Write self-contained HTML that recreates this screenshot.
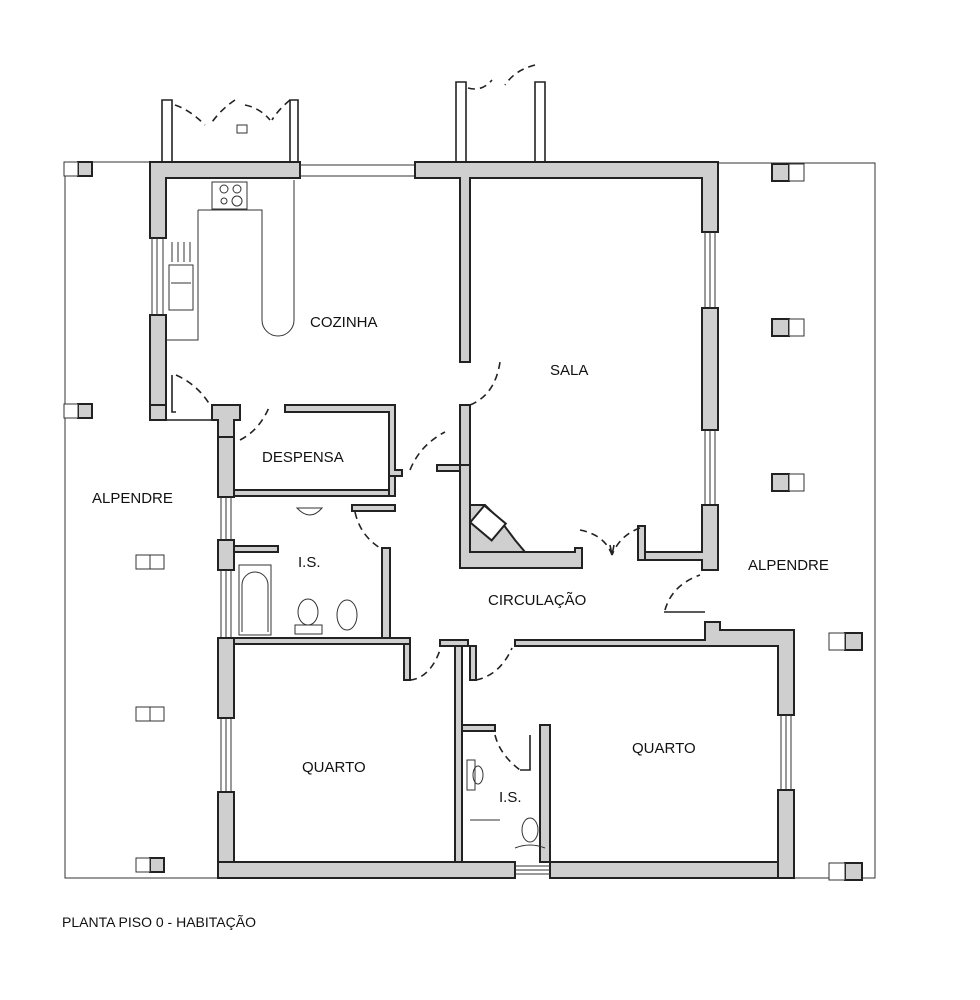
<!DOCTYPE html>
<html><head><meta charset="utf-8"><style>
html,body{margin:0;padding:0;background:#fff;}
svg{display:block}
text{font-family:"Liberation Sans",sans-serif;fill:#111;}
</style></head><body>
<svg width="980" height="1000" viewBox="0 0 980 1000" xmlns="http://www.w3.org/2000/svg">
<defs>
<style>
.w{fill:#cfcfcf;stroke:#222;stroke-width:2}
.t{fill:none;stroke:#222;stroke-width:1.6}
.th{fill:none;stroke:#333;stroke-width:1}
.d{fill:none;stroke:#222;stroke-width:1.6;stroke-dasharray:7 5}
.c{fill:#cfcfcf;stroke:#222;stroke-width:2}
.cw{fill:#fff;stroke:#333;stroke-width:1}
</style>
</defs>
<path class="th" d="M150 162 H65 V878 H218"/>
<path class="th" d="M718 163 H875 V878 H794"/>
<g>
<rect class="c" x="78" y="162" width="14" height="14"/><rect class="cw" x="64" y="162" width="14" height="14"/>
<rect class="c" x="78" y="404" width="14" height="14"/><rect class="cw" x="64" y="404" width="14" height="14"/>
<rect class="cw" x="136" y="555" width="14" height="14"/><rect class="cw" x="150" y="555" width="14" height="14"/>
<rect class="cw" x="136" y="707" width="14" height="14"/><rect class="cw" x="150" y="707" width="14" height="14"/>
<rect class="c" x="150" y="858" width="14" height="14"/><rect class="cw" x="136" y="858" width="14" height="14"/>
<rect class="c" x="772" y="164" width="17" height="17"/><rect class="cw" x="789" y="164" width="15" height="17"/>
<rect class="c" x="772" y="319" width="17" height="17"/><rect class="cw" x="789" y="319" width="15" height="17"/>
<rect class="c" x="772" y="474" width="17" height="17"/><rect class="cw" x="789" y="474" width="15" height="17"/>
<rect class="c" x="845" y="633" width="17" height="17"/><rect class="cw" x="829" y="633" width="16" height="17"/>
<rect class="c" x="845" y="863" width="17" height="17"/><rect class="cw" x="829" y="863" width="16" height="17"/>
</g>
<path class="t" d="M162 162 V100 H172 V162 M290 162 V100 H298 V162"/>
<path class="d" d="M175 105 Q190 110 205 125 M235 100 Q220 110 210 125"/>
<path class="d" d="M245 105 Q260 108 270 120 M290 100 Q278 110 272 120"/>
<rect x="237" y="125" width="10" height="8" class="cw"/>
<path class="t" d="M456 162 V82 H466 V162 M535 162 V82 H545 V162"/>
<path class="d" d="M468 88 Q482 92 492 80 M535 65 Q515 70 505 85"/>
<path class="w" d="M150 162 H300 V178 H166 V238 H150 Z"/>
<rect class="th" x="300" y="165" width="115" height="11"/>
<path class="w" d="M415 162 H718 V232 H702 V178 H470 V362 H460 V178 H415 Z"/>
<rect class="w" x="150" y="315" width="16" height="105"/>
<path class="th" d="M152 238 V315 M157 238 V315 M163 238 V315"/>
<rect class="w" x="702" y="308" width="16" height="122"/>
<path class="th" d="M705 232 V308 M710 232 V308 M715 232 V308 M705 430 V505 M710 430 V505 M715 430 V505"/>
<path class="w" d="M702 505 H718 V570 H702 V560 H645 V552 H702 Z"/>
<path class="w" d="M150 405 H166 V420 H150 Z"/>
<path class="t" d="M166 420 H212"/>
<path class="w" d="M212 405 H240 V420 H234 V437 H218 V420 H212 Z"/>
<path class="d" d="M176 375 Q198 385 210 405"/>
<path class="t" d="M172 375 V412 H176"/>
<rect class="w" x="218" y="437" width="16" height="60"/>
<rect class="w" x="218" y="540" width="16" height="30"/>
<path class="th" d="M221 570 V638 M226 570 V638 M231 570 V638"/>
<rect class="w" x="218" y="638" width="16" height="80"/>
<path class="th" d="M221 718 V792 M226 718 V792 M231 718 V792"/>
<rect class="w" x="218" y="792" width="16" height="86"/>
<path class="th" d="M221 497 V540 M226 497 V540 M231 497 V540"/>
<path class="w" d="M218 862 H515 V878 H218 Z"/>
<path class="w" d="M550 862 H794 V878 H550 Z"/>
<path class="th" d="M515 866 H550 M515 870 H550 M515 874 H550"/>
<path class="w" d="M705 622 H720 V630 H794 V715 H778 V646 H515 V640 H705 Z"/>
<rect class="w" x="778" y="790" width="16" height="88"/>
<path class="th" d="M781 715 V790 M786 715 V790 M791 715 V790"/>
<path class="d" d="M665 610 Q672 585 700 575"/>
<path class="t" d="M664 612 H705"/>
<path class="w" d="M285 405 H395 V470 H402 V476 H389 V412 H285 Z"/>
<path class="w" d="M234 490 H395 V496 H234 Z"/>
<path class="w" d="M389 476 H395 V496 H389 Z"/>
<path class="w" d="M352 505 H395 V511 H352 Z" />
<path class="w" d="M234 546 H278 V552 H234 Z"/>
<path class="w" d="M382 548 H390 V640 H382 Z"/>
<path class="w" d="M234 638 H410 V644 H234 Z"/>
<path class="w" d="M404 644 H410 V680 H404 Z"/>
<path class="w" d="M440 640 H468 V646 H440 Z"/>
<path class="w" d="M455 646 H462 V862 H455 Z"/>
<path class="w" d="M470 646 H476 V680 H470 Z"/>
<path class="w" d="M462 725 H495 V731 H462 Z"/>
<path class="w" d="M540 725 H550 V862 H540 Z"/>
<path class="w" d="M460 405 H470 V470 H460 Z"/>
<path class="w" d="M437 465 H460 V471 H437 Z"/>
<path class="w" d="M460 465 H470 V552 H575 V548 H582 V568 H460 Z"/>
<path class="w" d="M470 505 L470 552 L525 552 L515 540 L500 520 L485 505 Z"/>
<rect x="474" y="512" width="28" height="22" transform="rotate(40 488 523)" fill="#fff" stroke="#222" stroke-width="2"/>
<path class="w" d="M638 526 H645 V560 H638 Z"/>
<path class="d" d="M240 440 Q260 430 270 405"/>
<path class="d" d="M410 470 Q420 445 445 432"/>
<path class="d" d="M470 405 Q495 395 500 362"/>
<path class="d" d="M355 512 Q360 535 380 548"/>
<path class="d" d="M410 680 Q430 678 440 650"/>
<path class="d" d="M476 680 Q500 675 512 648"/>
<path class="d" d="M495 735 Q500 755 520 770"/>
<path class="t" d="M520 770 H530 V735"/>
<path class="d" d="M580 530 Q605 535 612 555 M640 528 Q620 535 612 555"/>
<path class="t" d="M610 545 L612 555 L614 545"/>
<rect class="th" x="212" y="182" width="35" height="27"/>
<circle class="th" cx="224" cy="189" r="4"/><circle class="th" cx="237" cy="189" r="4"/>
<circle class="th" cx="224" cy="201" r="3"/><circle class="th" cx="237" cy="201" r="5"/>
<path class="th" d="M198 240 V340 H166 M198 210 H262 V320 A16 16 0 0 0 294 320 V180"/>
<path class="th" d="M198 210 V240"/>
<rect class="th" x="169" y="265" width="24" height="45"/>
<path class="th" d="M172 242 V262 M178 242 V262 M184 242 V262 M190 242 V262 M171 283 H191"/>
<path class="th" d="M297 508 Q310 522 322 508 Z"/>
<rect class="th" x="239" y="565" width="32" height="70"/>
<path class="th" d="M242 632 V585 A13 13 0 0 1 268 585 V632"/>
<ellipse class="th" cx="308" cy="612" rx="10" ry="13"/>
<rect class="th" x="295" y="625" width="27" height="9"/>
<ellipse class="th" cx="347" cy="615" rx="10" ry="15"/>
<path class="th" d="M467 760 H475 V790 H467 Z"/>
<ellipse class="th" cx="478" cy="775" rx="5" ry="9"/>
<path class="th" d="M470 820 H500"/>
<ellipse class="th" cx="530" cy="830" rx="8" ry="12"/>
<path class="th" d="M515 848 Q530 842 545 848"/>
<text x="310" y="327" font-size="15">COZINHA</text>
<text x="550" y="375" font-size="15">SALA</text>
<text x="262" y="462" font-size="15">DESPENSA</text>
<text x="92" y="503" font-size="15">ALPENDRE</text>
<text x="298" y="567" font-size="15">I.S.</text>
<text x="748" y="570" font-size="15">ALPENDRE</text>
<text x="488" y="605" font-size="15">CIRCULAÇÃO</text>
<text x="632" y="753" font-size="15">QUARTO</text>
<text x="302" y="772" font-size="15">QUARTO</text>
<text x="499" y="802" font-size="15">I.S.</text>
<text x="62" y="927" font-size="14">PLANTA PISO 0 - HABITAÇÃO</text>
</svg>
</body></html>
